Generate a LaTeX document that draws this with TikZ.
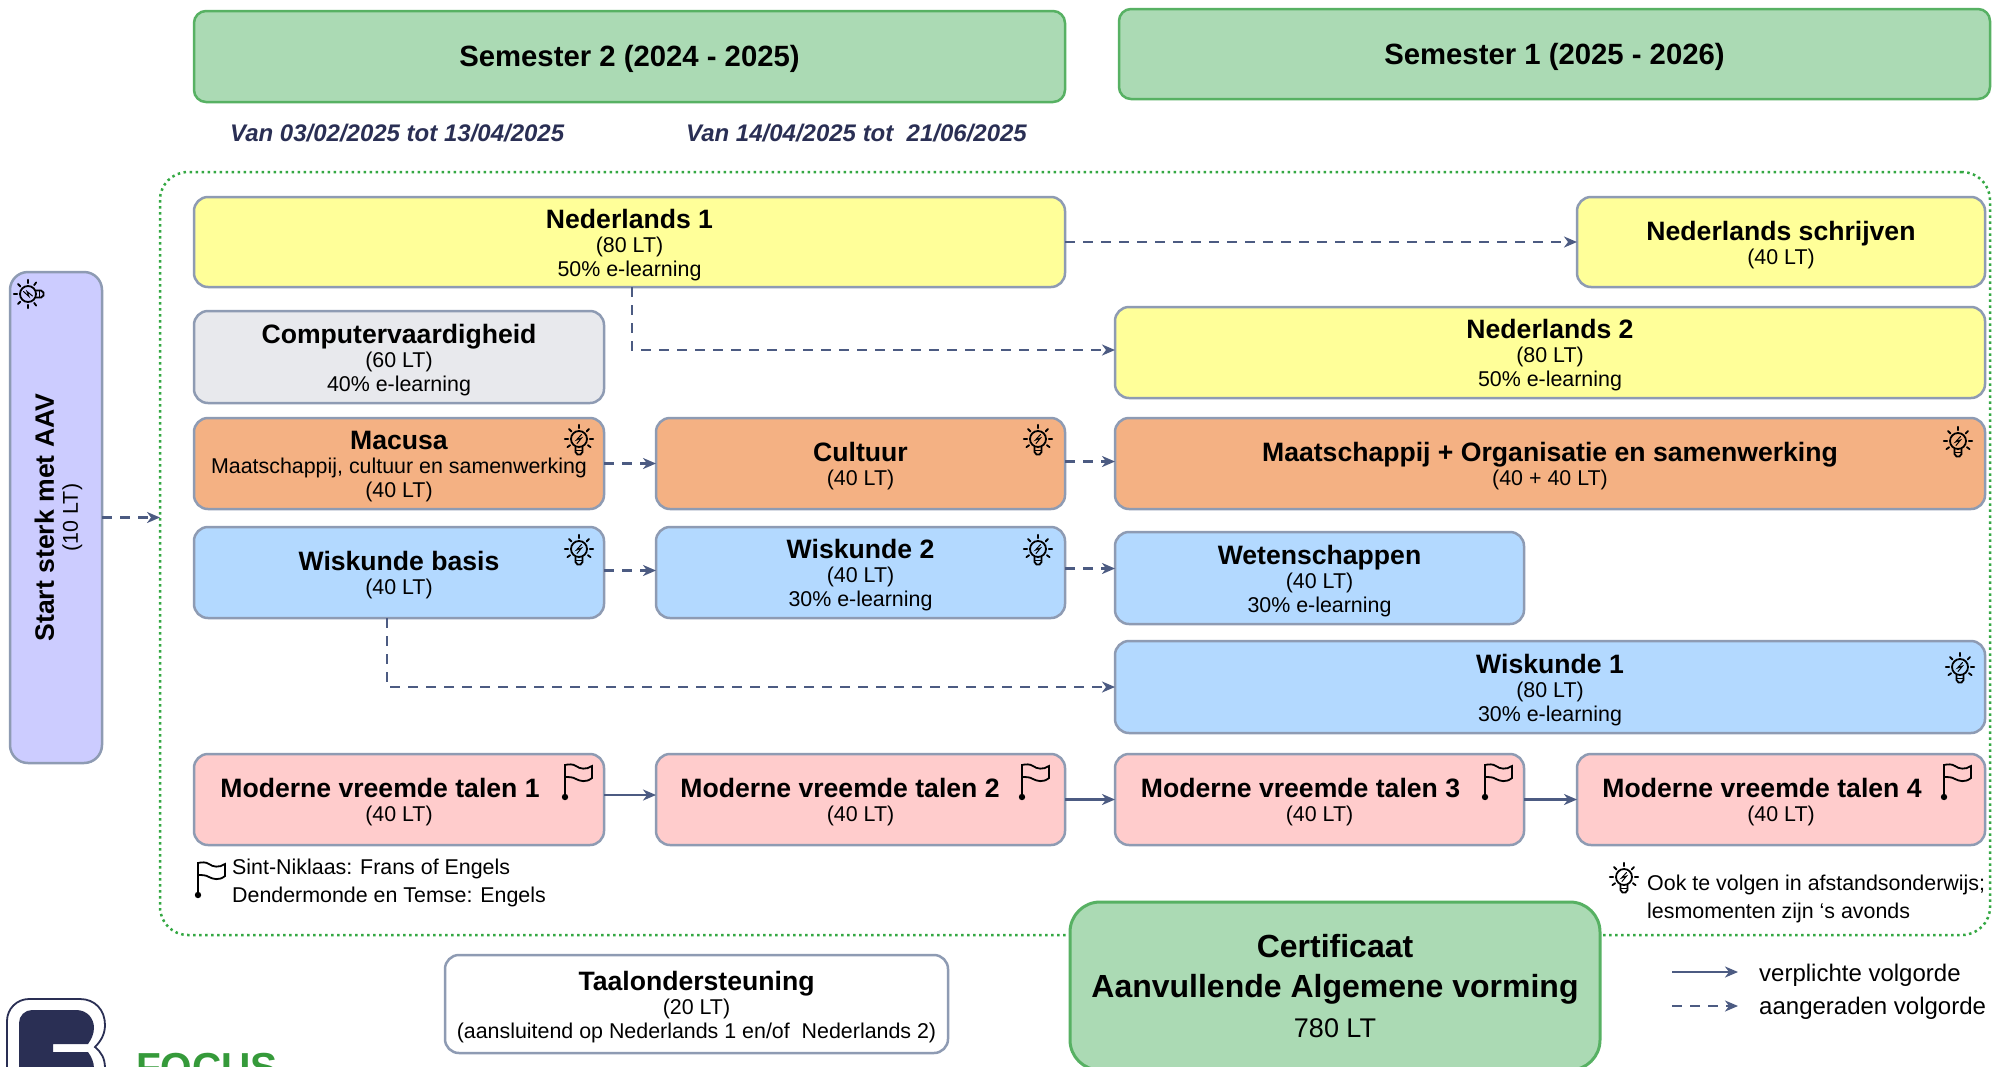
\documentclass[tikz,border=0pt]{standalone}
\usepackage{fontspec}
\setmainfont{Liberation Sans}
\usetikzlibrary{arrows.meta,calc}
\definecolor{boxedge}{HTML}{8E9BB3}
\definecolor{greenfill}{HTML}{ABDAB4}
\definecolor{greenedge}{HTML}{57B163}
\definecolor{dotgreen}{HTML}{34A843}
\definecolor{yellowfill}{HTML}{FFFF99}
\definecolor{greyfill}{HTML}{E8E9ED}
\definecolor{orangefill}{HTML}{F4B183}
\definecolor{bluefill}{HTML}{B3D9FF}
\definecolor{redfill}{HTML}{FFCCCC}
\definecolor{purplefill}{HTML}{CCCCFF}
\definecolor{navy}{HTML}{2A2F54}
\definecolor{arrowc}{HTML}{4C5B82}
\definecolor{logogreen}{HTML}{359A3A}
\newcommand\ttl[1]{{\fontsize{26.6}{28}\selectfont\bfseries\rule{0pt}{24.5pt}#1}}
\newcommand\ttlr[1]{{\fontsize{26.6}{28}\selectfont\bfseries\rule{0pt}{27pt}#1}}
\newcommand\bx[7]{%
  \pgfmathsetmacro\bxcx{(#3+#5)/2}\pgfmathsetmacro\bxcy{(#4+#6)/2}%
  \pgfmathsetmacro\bxw{#5-#3}\pgfmathsetmacro\bxh{#6-#4}%
  \node[#2,minimum width=\bxw pt,minimum height=\bxh pt] (#1) at (\bxcx,\bxcy) {#7};}
\tikzset{
  x=1pt,y=-1pt,
  base/.style={draw=boxedge,line width=2.5pt,rounded corners=14pt,inner sep=0pt,outer sep=0pt,align=center,
     font=\fontsize{21.4}{24}\selectfont,text=black},
  yellowbox/.style={base,fill=yellowfill},
  greybox/.style={base,fill=greyfill},
  orangebox/.style={base,fill=orangefill},
  bluebox/.style={base,fill=bluefill},
  redbox/.style={base,fill=redfill},
  whitebox/.style={base,fill=white},
  purplebox/.style={base,fill=purplefill,rounded corners=18pt},
  semester/.style={draw=greenedge,fill=greenfill,line width=2.5pt,rounded corners=12pt,inner sep=0pt,outer sep=0pt,
     font=\fontsize{29.3}{32}\selectfont\bfseries},
  certbox/.style={draw=greenedge,fill=greenfill,line width=3pt,rounded corners=30pt,inner sep=0pt,outer sep=0pt,align=center},
  contbox/.style={draw=dotgreen,line width=2.5pt,dash pattern=on 2.5pt off 3.5pt,rounded corners=28pt,inner sep=0pt,outer sep=0pt},
  dates/.style={text=navy,font=\fontsize{24}{26}\selectfont\bfseries\itshape,inner sep=0pt,anchor=west},
  note/.style={font=\fontsize{21.4}{27.5}\selectfont,inner sep=0pt,anchor=north west,align=left},
  legendtext/.style={font=\fontsize{24}{26}\selectfont,inner sep=0pt,anchor=west},
  must/.style={draw=arrowc,line width=2.7pt,-{Stealth[length=13pt,width=11pt,inset=4pt]}},
  may/.style={must,dash pattern=on 10pt off 8pt},
  icon/.style={draw=black,line width=1.8pt,line cap=round},
  bulb/.pic={
    \draw[icon,fill=none] (0,0) circle (8);
    \foreach \a in {-90,-45,-135,0,180,35,145}
      \draw[icon] ({cos(\a)*10.8},{sin(\a)*10.8}) -- ({cos(\a)*14.2},{sin(\a)*14.2});
    \draw[icon] (-3.5,8) -- (-3.5,13) -- (-1.5,15.5) -- (1.5,15.5) -- (3.5,13) -- (3.5,8);
    \draw[icon,line width=1.4pt] (-3.5,11.5) -- (3.5,11.5);
    \draw[icon,line width=1pt] (2.5,-4.5) -- (-2.5,1) -- (2.5,-1) -- (-2,4.5);
  },
  flag/.pic={
    \fill[black] (0,0) circle (3.2);
    \draw[icon] (0,0) -- (0,-32)
      .. controls (4,-33) and (8,-33) .. (11,-31)
      .. controls (15,-28) and (21,-27) .. (27,-31)
      -- (27,-19)
      .. controls (21,-14) and (15,-16) .. (11,-18)
      .. controls (8,-20) and (4,-20) .. (0,-20);
  },
}
\begin{document}
\begin{tikzpicture}
\useasboundingbox (0,0) rectangle (1992,1066);
\fill[white] (0,0) rectangle (1992,1066);
\begin{scope}
\clip (0,0) rectangle (1992,1066);
% logo
\draw[navy,line width=1.8pt,fill=white] (7,1080) -- (7,1021) arc[start angle=180,end angle=270,radius=22] -- (80,999)
   .. controls (95,999) and (105,1010) .. (105,1025) .. controls (105,1034) and (101,1041) .. (95,1047)
   .. controls (101,1052) and (105,1058) .. (105,1068) -- (105,1080);
\fill[navy] (19,1080) -- (19,1023) arc[start angle=180,end angle=270,radius=13] -- (76,1010)
   .. controls (87,1010) and (94,1018) .. (94,1028) .. controls (94,1034) and (91,1040) .. (88,1044)
   -- (53,1044) -- (53,1052) -- (88,1052) .. controls (91,1056) and (94,1062) .. (94,1068) -- (94,1080) -- cycle;
\node[font=\fontsize{40.5}{41}\selectfont\bfseries,text=logogreen,inner sep=0pt,anchor=base west] (focus) at (136,1081) {FOCUS};
% container
\bx{cont}{contbox}{160}{172}{1990}{935}{}
% headers
\bx{sem2}{semester}{194}{11}{1065}{102}{\rule{0pt}{27pt}Semester 2 (2024 - 2025)}
\bx{sem1}{semester}{1119}{9}{1990}{99}{\rule{0pt}{27pt}Semester 1 (2025 - 2026)}
\node[dates] (van1) at (230,133) {Van 03/02/2025 tot 13/04/2025};
\node[dates] (van2) at (686,133) {Van 14/04/2025 tot\ \ 21/06/2025};
% boxes
\bx{ned1}{yellowbox}{194}{197}{1065}{287}{\ttl{Nederlands 1}\\(80 LT)\\50\% e-learning}
\bx{nedw}{yellowbox}{1577}{197}{1985}{287}{\ttl{Nederlands schrijven}\\(40 LT)}
\bx{comp}{greybox}{194}{311}{604}{403}{\ttl{Computervaardigheid}\\(60 LT)\\40\% e-learning}
\bx{ned2}{yellowbox}{1115}{307}{1985}{398}{\ttl{Nederlands 2}\\(80 LT)\\50\% e-learning}
\bx{mac}{orangebox}{194}{418}{604}{509}{\ttl{Macusa}\\Maatschappij, cultuur en samenwerking\\(40 LT)}
\bx{cul}{orangebox}{656}{418}{1065}{509}{\ttl{Cultuur}\\(40 LT)}
\bx{maa}{orangebox}{1115}{418}{1985}{509}{\ttl{Maatschappij + Organisatie en samenwerking}\\(40 + 40 LT)}
\bx{wib}{bluebox}{194}{527}{604}{618}{\ttl{Wiskunde basis}\\(40 LT)}
\bx{wi2}{bluebox}{656}{527}{1065}{618}{\ttl{Wiskunde 2}\\(40 LT)\\30\% e-learning}
\bx{wet}{bluebox}{1115}{532}{1524}{624}{\ttl{Wetenschappen}\\(40 LT)\\30\% e-learning}
\bx{wi1}{bluebox}{1115}{641}{1985}{733}{\ttl{Wiskunde 1}\\(80 LT)\\30\% e-learning}
\bx{mv1}{redbox}{194}{754}{604}{845}{\ttl{Moderne vreemde talen 1\hspace*{38pt}}\\(40 LT)}
\bx{mv2}{redbox}{656}{754}{1065}{845}{\ttl{Moderne vreemde talen 2\hspace*{41pt}}\\(40 LT)}
\bx{mv3}{redbox}{1115}{754}{1524}{845}{\ttl{Moderne vreemde talen 3\hspace*{38pt}}\\(40 LT)}
\bx{mv4}{redbox}{1577}{754}{1985}{845}{\ttl{Moderne vreemde talen 4\hspace*{38pt}}\\(40 LT)}
\bx{start}{purplebox}{10}{272}{102}{763}{\rotatebox{90}{\begin{tabular}{@{}c@{}}\ttlr{Start sterk met AAV}\\[0pt](10 LT)\end{tabular}}}
\bx{taal}{whitebox}{445}{955}{948}{1053}{\ttl{Taalondersteuning}\\(20 LT)\\(aansluitend op Nederlands 1 en/of\ \ Nederlands 2)}
\bx{cert}{certbox}{1070}{902}{1600}{1070}{{\fontsize{32}{40}\selectfont\bfseries Certificaat}\\[16pt]{\fontsize{32}{40}\selectfont\bfseries Aanvullende Algemene vorming}\\[13pt]{\fontsize{27}{38}\selectfont 780 LT}}
% connectors
\draw[may] (ned1.east) -- (nedw.west);
\draw[may] ([xshift=2.5pt]ned1.south) |- ([yshift=2.5pt]ned2.west);
\draw[may] (mac.east) -- (cul.west);
\draw[may] ([yshift=2pt]cul.east) -- ([yshift=2pt]maa.west);
\draw[may] ([yshift=2pt]wib.east) -- ([yshift=2pt]wi2.west);
\draw[may] ([yshift=4pt]wi2.east) -- ([yshift=4pt]wi2.east -| wet.west);
\draw[may] ([xshift=-12pt]wib.south) |- (wi1.west);
\draw[must] ([yshift=4.5pt]mv1.east) -- ([yshift=4.5pt]mv2.west);
\draw[must] (mv2.east) -- (mv3.west);
\draw[must] (mv3.east) -- (mv4.west);
\draw[may] (start.east) -- (start.east -| cont.west);
% icons
\pic at (28,294) [rotate=90] {bulb};
\pic at (579,439) {bulb};
\pic at (1038,439) {bulb};
\pic at (1958,441) {bulb};
\pic at (579,549) {bulb};
\pic at (1038,549) {bulb};
\pic at (1960,667) {bulb};
\pic at (1624,877) {bulb};
\pic at (565,797) {flag};
\pic at (1022,797) {flag};
\pic at (1485,797) {flag};
\pic at (1944,797) {flag};
\pic at (198,895) {flag};
% notes
\node[note] (flagnote) at (232,859) {Sint-Niklaas: Frans of Engels\\Dendermonde en Temse: Engels};
\node[note] (bulbnote) at (1647,875) {Ook te volgen in afstandsonderwijs;\\lesmomenten zijn ‘s avonds};
% legend
\coordinate (l1a) at (1672,972); \coordinate (l1b) at (1738,972);
\coordinate (l2a) at (1672,1006); \coordinate (l2b) at (1738,1006);
\draw[must] (l1a) -- (l1b);
\draw[may] (l2a) -- (l2b);
\node[legendtext] (l1t) at (1759,975) {verplichte volgorde};
\node[legendtext] (l2t) at (1759,1008) {aangeraden volgorde};
\end{scope}
\end{tikzpicture}
\end{document}
